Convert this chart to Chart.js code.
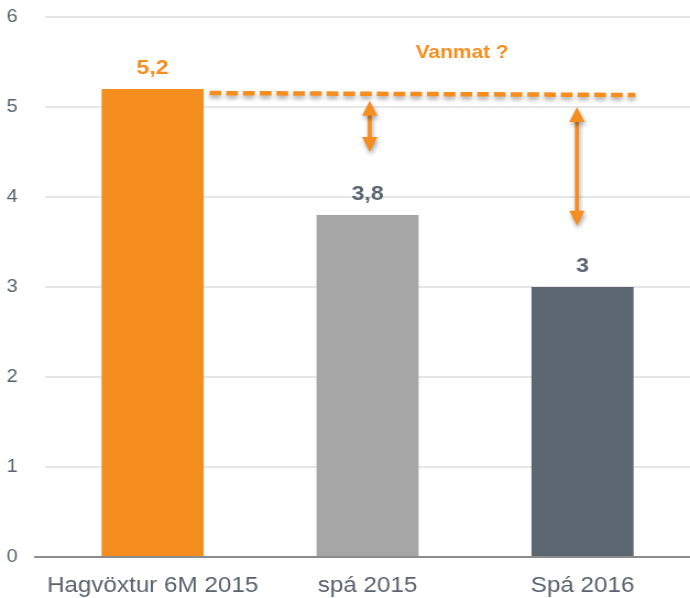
<!DOCTYPE html>
<html>
<head>
<meta charset="utf-8">
<script src="https://cdn.jsdelivr.net/npm/chart.js@4/dist/chart.umd.min.js"></script>
<style>
  html, body { margin: 0; padding: 0; background: #fff; }
  #chart { display: block; }
</style>
</head>
<body>
<!-- drawn narrower and stretched by CSS, like the original slide -->
<canvas id="chart" width="627" height="598" style="width:690px;height:598px"></canvas>
<script>
// --- data ---
const categories = ['Hagvöxtur 6M 2015', 'spá 2015', 'Spá 2016'];
const values = [5.2, 3.8, 3];
const valueLabels = ['5,2', '3,8', '3'];
const barColors = ['#F68D1F', '#A6A6A6', '#5C6670'];
const labelColors = ['#F68D1F', '#5C6670', '#5C6670'];
const yTicks = [0, 1, 2, 3, 4, 5, 6];

// annotation: dashed reference line + gap arrows (category index, value)
const refLineX = [0.265, 2.246];
const refLineY = [5.155, 5.133];
const arrowX = [1.01, 1.974];
const arrowTop = [5.07, 5.0];
const arrowBottom = [4.5, 3.68];
const noteText = 'Vanmat ?';
const notePos = [1.44, 5.6];

const ORANGE = '#F68D1F';
const TEXT = '#5A626D';

Chart.defaults.font.family = '"Liberation Sans", Arial, sans-serif';

const annotations = {
    id: 'annotations',
    afterDatasetsDraw(chart) {
        const ctx = chart.ctx;
        const x = chart.scales.x;
        const y = chart.scales.y;

        // value labels above bars
        const meta = chart.getDatasetMeta(0);
        ctx.save();
        ctx.font = 'bold 21px "Liberation Sans", Arial, sans-serif';
        ctx.textAlign = 'center';
        ctx.textBaseline = 'alphabetic';
        meta.data.forEach((bar, i) => {
            ctx.fillStyle = labelColors[i];
            ctx.fillText(valueLabels[i], bar.x, bar.y - 15);
        });
        ctx.restore();

        // dashed line
        ctx.save();
        ctx.shadowColor = 'rgba(0,0,0,0.35)';
        ctx.shadowBlur = 4;
        ctx.shadowOffsetY = 3;
        ctx.strokeStyle = ORANGE;
        ctx.lineWidth = 4.5;
        ctx.setLineDash([10.6, 4.6]);
        ctx.beginPath();
        ctx.moveTo(x.getPixelForValue(refLineX[0]), y.getPixelForValue(refLineY[0]));
        ctx.lineTo(x.getPixelForValue(refLineX[1]), y.getPixelForValue(refLineY[1]));
        ctx.stroke();
        ctx.restore();

        // double arrows
        arrowX.forEach((ax, i) => {
            const px = x.getPixelForValue(ax);
            const top = y.getPixelForValue(arrowTop[i]);
            const bot = y.getPixelForValue(arrowBottom[i]);
            const hw = 7, hh = 15;
            ctx.save();
            ctx.shadowColor = 'rgba(0,0,0,0.35)';
            ctx.shadowBlur = 4;
            ctx.shadowOffsetX = 1;
            ctx.shadowOffsetY = 3;
            ctx.fillStyle = ORANGE;
            ctx.fillRect(px - 1.8, top + hh - 1, 3.6, bot - top - 2 * hh + 2);
            ctx.beginPath();
            ctx.moveTo(px, top);
            ctx.lineTo(px + hw, top + hh);
            ctx.lineTo(px - hw, top + hh);
            ctx.closePath();
            ctx.moveTo(px, bot);
            ctx.lineTo(px + hw, bot - hh);
            ctx.lineTo(px - hw, bot - hh);
            ctx.closePath();
            ctx.fill();
            ctx.restore();
        });

        // note text
        ctx.save();
        ctx.font = 'bold 19px "Liberation Sans", Arial, sans-serif';
        ctx.fillStyle = ORANGE;
        ctx.textAlign = 'center';
        ctx.textBaseline = 'middle';
        ctx.fillText(noteText, x.getPixelForValue(notePos[0]), y.getPixelForValue(notePos[1]));
        ctx.restore();
    }
};

new Chart(document.getElementById('chart'), {
    type: 'bar',
    data: {
        labels: categories,
        datasets: [{
            data: values,
            backgroundColor: barColors,
            barPercentage: 0.475,
            categoryPercentage: 1
        }]
    },
    options: {
        responsive: false,
        animation: false,
        layout: { padding: { top: 17, right: 0, left: 0, bottom: 0 } },
        plugins: {
            legend: { display: false },
            tooltip: { enabled: false }
        },
        scales: {
            x: {
                grid: { display: true, drawOnChartArea: false, drawTicks: false },
                border: { display: false },
                ticks: { color: TEXT, font: { size: 22 }, padding: 16, maxRotation: 0 },
                afterFit: (s) => { s.height = 41; }
            },
            y: {
                min: 0,
                max: 6,
                afterBuildTicks: (s) => { s.ticks = yTicks.map(v => ({ value: v })); },
                ticks: { color: TEXT, font: { size: 18 }, padding: 15 },
                border: { display: false },
                grid: {
                    drawTicks: true,
                    tickLength: 10,
                    color: (c) => c.tick && c.tick.value === 0 ? '#8C8C8C' : '#E6E6E6',
                    tickColor: (c) => c.tick && c.tick.value === 0 ? '#8C8C8C' : 'rgba(0,0,0,0)',
                    lineWidth: 2
                },
                afterFit: (s) => {
                    s.width = 41;
                    s.paddingTop = 10;
                    s.paddingBottom = 10;
                }
            }
        }
    },
    plugins: [annotations]
});
</script>
</body>
</html>
